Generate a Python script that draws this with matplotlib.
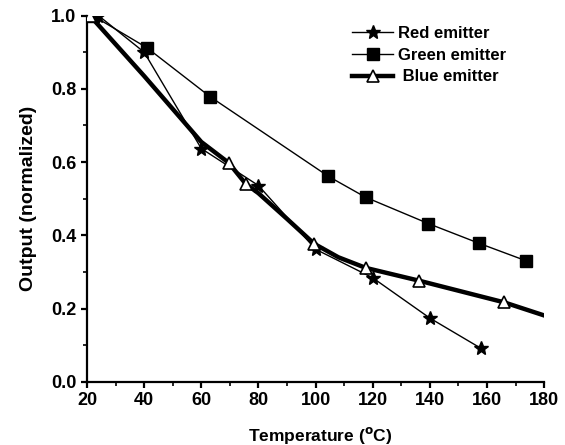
import matplotlib
matplotlib.use('Agg')
import matplotlib.pyplot as plt
from matplotlib.ticker import MultipleLocator

plt.rcParams['font.family'] = ['Liberation Sans', 'DejaVu Sans']
plt.rcParams['font.weight'] = 'bold'

# Red emitter (stars)
red_t = [24, 40, 60, 80, 100, 120, 140, 158]
red_y = [1.0, 0.90, 0.637, 0.536, 0.362, 0.284, 0.174, 0.091]

# Green emitter (squares)
green_t = [22, 41, 63, 104.5, 117.5, 139.5, 157.3, 173.5]
green_y = [1.0, 0.912, 0.779, 0.561, 0.504, 0.432, 0.378, 0.331]

# Blue emitter: smooth thick curve, markers only at measured points
blue_t = [21, 40, 60, 69.6, 75.5, 80, 90, 99.5, 108, 117.6, 136.3, 166, 180.5]
blue_y = [1.0, 0.835, 0.655, 0.598, 0.541, 0.515, 0.445, 0.377, 0.34, 0.311, 0.276, 0.217, 0.18]
blue_marked = [0, 3, 4, 7, 9, 10, 11]

fig = plt.figure(figsize=(5.65, 4.45), dpi=100)
ax = fig.add_axes([0.154, 0.142, 0.809, 0.823])

ax.plot(red_t, red_y, color='black', lw=1.0, marker='*', ms=10,
        label='Red emitter', zorder=3)
ax.plot(green_t, green_y, color='black', lw=1.0, marker='s', ms=8,
        label='Green emitter', zorder=3)
ax.plot(blue_t, blue_y, color='black', lw=3.2, marker='^', ms=9,
        markerfacecolor='white', markeredgewidth=1.2, markevery=blue_marked,
        label=' Blue emitter', zorder=4)

ax.set_xlim(20, 180)
ax.set_ylim(0, 1.0)
ax.xaxis.set_major_locator(MultipleLocator(20))
ax.xaxis.set_minor_locator(MultipleLocator(10))
ax.yaxis.set_major_locator(MultipleLocator(0.2))
ax.yaxis.set_minor_locator(MultipleLocator(0.1))
ax.yaxis.set_major_formatter(plt.FormatStrFormatter('%.1f'))

for side in ('top', 'right'):
    ax.spines[side].set_visible(False)
for side in ('left', 'bottom'):
    ax.spines[side].set_linewidth(1.6)
ax.tick_params(which='major', direction='out', length=4.5, width=1.6,
               labelsize=13, pad=3)
ax.tick_params(which='minor', direction='out', length=3, width=1.2)

ax.set_xlabel('Temperature ($^{\\mathrm{o}}$C)', fontsize=12.5, fontweight='bold')
ax.set_ylabel('Output (normalized)', fontsize=14, fontweight='bold')
ax.xaxis.set_label_coords(0.51, -0.117)
ax.yaxis.set_label_coords(-0.11, 0.5)

ax.legend(loc='upper left', bbox_to_anchor=(0.596, 0.975),
          bbox_transform=fig.transFigure, frameon=False,
          fontsize=12, handlelength=2.5, handletextpad=0.3, labelspacing=0.4)

fig.savefig('out.png', dpi=100)
